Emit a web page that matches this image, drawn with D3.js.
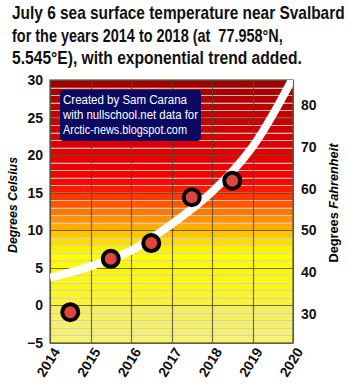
<!DOCTYPE html>
<html>
<head>
<meta charset="utf-8">
<script src="https://cdn.jsdelivr.net/npm/d3@7"></script>
<style>
body{margin:0;background:#fff;}
text{font-family:"Liberation Sans",Arial,sans-serif;}
</style>
</head>
<body>
<div id="chart"></div>
<script>
///data
const years = [2014.5, 2015.5, 2016.5, 2017.5, 2018.5];
const sstC = [-0.9, 6.2, 8.3, 14.4, 16.6];
const trendYears = [2014, 2015, 2016, 2017, 2018, 2019, 2020];
const trendC = [3.7, 5.2, 7.3, 10.8, 15.1, 21.1, 30.3];
const xTicks = [2014, 2015, 2016, 2017, 2018, 2019, 2020];
const cTicks = [-5, 0, 5, 10, 15, 20, 25, 30];
const fTicks = [30, 40, 50, 60, 70, 80];
const titleLines = [
  "July 6 sea surface temperature near Svalbard",
  "for the years 2014 to 2018 (at  77.958°N,",
  "5.545°E), with exponential trend added."
];
const noteLines = ["Created by Sam Carana", "with nullschool.net data for", "Arctic-news.blogspot.com"];

///vars
let w = 350, h = 390;
const pLeft = 50, pRight = 293, pTop = 80, pBottom = 343;

let svg = d3.select("#chart").append("svg")
  .attr("width", w).attr("height", h);

const x = d3.scaleLinear().domain([2014, 2020]).range([pLeft, pRight]);
const y = d3.scaleLinear().domain([-5, 30]).range([pBottom, pTop]);
const yF = d3.scaleLinear().domain([-5 * 9 / 5 + 32, 30 * 9 / 5 + 32]).range([pBottom, pTop]);

///band colours
const band = d3.scaleLinear()
  .domain([-5, -0.5, 0.5, 5, 6.5, 8, 9, 10, 11, 12, 13, 14, 15, 16, 18, 21, 25, 28, 30])
  .range(["#f6f274", "#f5ef5e", "#fcf430", "#fff600", "#ffff00", "#ffe800", "#ffd000", "#ffb800",
          "#ffa000", "#ff8800", "#ff6800", "#ff4800", "#ff2800", "#ff0a00", "#f00000", "#e00000",
          "#c80000", "#b00000", "#9a0000"]);

const bands = d3.range(-5, 30);
svg.append("g").selectAll("rect").data(bands).join("rect")
  .attr("x", pLeft).attr("width", pRight - pLeft)
  .attr("y", d => y(d + 1)).attr("height", d => y(d) - y(d + 1))
  .attr("fill", d => band(d + 0.5));

///grid
svg.append("g").selectAll("line").data(d3.range(-4, 30).filter(d => d % 5 !== 0)).join("line")
  .attr("x1", pLeft).attr("x2", pRight)
  .attr("y1", d => Math.round(y(d)) + 0.5).attr("y2", d => Math.round(y(d)) + 0.5)
  .attr("stroke", "rgba(205,205,205,0.9)").attr("stroke-width", 1);
svg.append("g").selectAll("line").data(cTicks).join("line")
  .attr("x1", pLeft).attr("x2", pRight)
  .attr("y1", d => Math.round(y(d)) + 0.5).attr("y2", d => Math.round(y(d)) + 0.5)
  .attr("stroke", "rgba(90,80,45,0.85)").attr("stroke-width", 1.2);
svg.append("g").selectAll("line").data(xTicks).join("line")
  .attr("x1", d => Math.round(x(d)) + 0.5).attr("x2", d => Math.round(x(d)) + 0.5)
  .attr("y1", pTop).attr("y2", pBottom)
  .attr("stroke", "rgba(80,75,50,0.8)").attr("stroke-width", 1.2);
svg.append("rect")
  .attr("x", pLeft).attr("y", pTop).attr("width", pRight - pLeft).attr("height", pBottom - pTop)
  .attr("fill", "none").attr("stroke", "#5a5438").attr("stroke-width", 1.2);

///trend
svg.append("clipPath").attr("id", "clip").append("rect")
  .attr("x", pLeft).attr("y", pTop).attr("width", pRight - pLeft).attr("height", pBottom - pTop);
const line = d3.line().x(d => x(d[0])).y(d => y(d[1])).curve(d3.curveCatmullRom.alpha(0.5));
svg.append("path")
  .datum(trendYears.map((d, i) => [d, trendC[i]]))
  .attr("clip-path", "url(#clip)")
  .attr("d", line)
  .attr("fill", "none").attr("stroke", "white").attr("stroke-width", 8);

///points
svg.append("g").selectAll("circle").data(years.map((d, i) => [d, sstC[i]])).join("circle")
  .attr("cx", d => x(d[0])).attr("cy", d => y(d[1])).attr("r", 8)
  .attr("fill", "#dd4640").attr("stroke", "black").attr("stroke-width", 4);

///note box
svg.append("rect").attr("x", 60).attr("y", 90).attr("width", 141).attr("height", 51)
  .attr("rx", 4).attr("fill", "#0a0a62");
svg.append("g").selectAll("text").data(noteLines).join("text")
  .attr("x", 63).attr("y", (d, i) => 104 + i * 15)
  .attr("fill", "white").style("font-size", "12.5px")
  .attr("textLength", (d, i) => [124, 135, 124][i]).attr("lengthAdjust", "spacingAndGlyphs")
  .text(d => d);

///axes
const axC = svg.append("g").attr("transform", "translate(" + pLeft + ",0)")
  .call(d3.axisLeft(y).tickValues(cTicks).tickSize(0).tickPadding(7));
axC.select(".domain").remove();
axC.selectAll("text").style("font-size", "14px").style("font-weight", "bold").attr("fill", "#111");

const axF = svg.append("g").attr("transform", "translate(" + pRight + ",0)")
  .call(d3.axisRight(yF).tickValues(fTicks).tickSize(0).tickPadding(8));
axF.select(".domain").remove();
axF.selectAll("text").style("font-size", "14px").style("font-weight", "bold").attr("fill", "#111");

const axX = svg.append("g").attr("transform", "translate(0," + pBottom + ")")
  .call(d3.axisBottom(x).tickValues(xTicks).tickFormat(d3.format("d")).tickSize(0));
axX.select(".domain").remove();
axX.selectAll("text")
  .style("font-size", "14px").style("font-weight", "bold").attr("fill", "#111")
  .attr("text-anchor", "end")
  .attr("transform", "translate(6,6) rotate(-58)")
  .attr("x", 0).attr("y", 0).attr("dy", "0.35em");

///axis titles
svg.append("text")
  .attr("transform", "translate(17,205) rotate(-90)")
  .attr("text-anchor", "middle")
  .style("font-size", "13px").style("font-weight", "bold").style("font-style", "italic")
  .attr("textLength", 96).attr("lengthAdjust", "spacingAndGlyphs")
  .text("Degrees Celsius");
const fl = svg.append("text")
  .attr("transform", "translate(338,203) rotate(-90)")
  .attr("text-anchor", "middle")
  .style("font-size", "13px").style("font-weight", "bold")
  .attr("textLength", 119).attr("lengthAdjust", "spacingAndGlyphs");
fl.append("tspan").text("Degrees ");
fl.append("tspan").style("font-style", "italic").text("Fahrenheit");

///title (squeezed horizontally like a narrow face)
const titleW = [333, 271, 290];
svg.append("g").selectAll("text").data(titleLines).join("text")
  .style("font-size", "18px").style("font-weight", "bold").style("white-space", "pre")
  .attr("fill", "#111")
  .text(d => d)
  .attr("transform", function(d, i) {
    const sx = titleW[i] / this.getComputedTextLength();
    return "translate(12," + (19 + i * 22.5) + ") scale(" + sx + ",1)";
  });
</script>
</body>
</html>
